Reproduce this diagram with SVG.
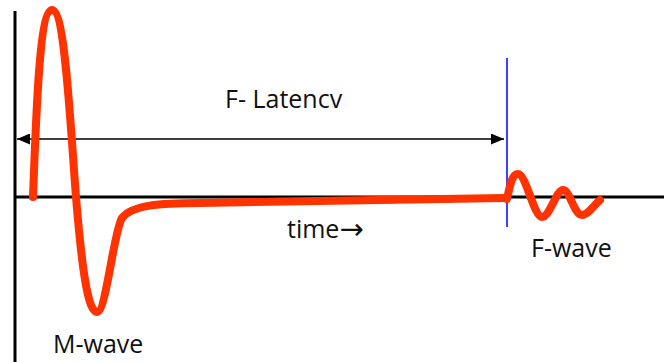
<svg xmlns="http://www.w3.org/2000/svg" width="664" height="362" viewBox="0 0 664 362">
<style>
.t{font-family:"Open Sans","Liberation Sans",sans-serif;font-size:25px;fill:#111}
.axis{stroke:#000;stroke-width:3;fill:none}
.wave{stroke:#ff3300;stroke-width:8;fill:none;stroke-linecap:round;stroke-linejoin:round}
</style>
<defs>
<marker id="ah" viewBox="0 0 10 10" refX="10" refY="5" markerWidth="13" markerHeight="11" orient="auto-start-reverse" markerUnits="userSpaceOnUse" preserveAspectRatio="none">
<path d="M0,0 L10,5 L0,10 z" fill="#000"/>
</marker>
</defs>
<g id="axes">
<line class="axis" x1="15" y1="11" x2="15" y2="362"/>
<line class="axis" x1="15" y1="197" x2="664" y2="197"/>
</g>
<g id="connectors">
<line x1="17" y1="139" x2="504" y2="139" stroke="#000" stroke-width="1.5" marker-start="url(#ah)" marker-end="url(#ah)"/>
<line x1="507" y1="58" x2="507" y2="227" stroke="#0000ff" stroke-width="1.5"/>
</g>
<g id="m-wave">
<path class="wave" d="M33,197 C36,120 39,10 52,10 C65,10 70,120 76,197 C82,270 88,312 97,312 C106,312 114,230 122,218 C132,205 160,203 200,203 L505,198"/>
<text class="t" x="53" y="353">M-wave</text>
</g>
<g id="f-wave">
<path class="wave" d="M507,199 C510,185 512,174 518,174 C526,174 534,217 542,217 C550,217 556,190 563,190 C570,190 574,215 582,215 C588,215 594,205 600,200"/>
<text class="t" x="531" y="257">F-wave</text>
</g>
<g id="labels">
<text class="t" x="225" y="108">F- Latencv</text>
<text class="t" x="287" y="238">time<tspan font-family="DejaVu Sans, sans-serif" font-size="29" dy="1">→</tspan></text>
</g>
</svg>
